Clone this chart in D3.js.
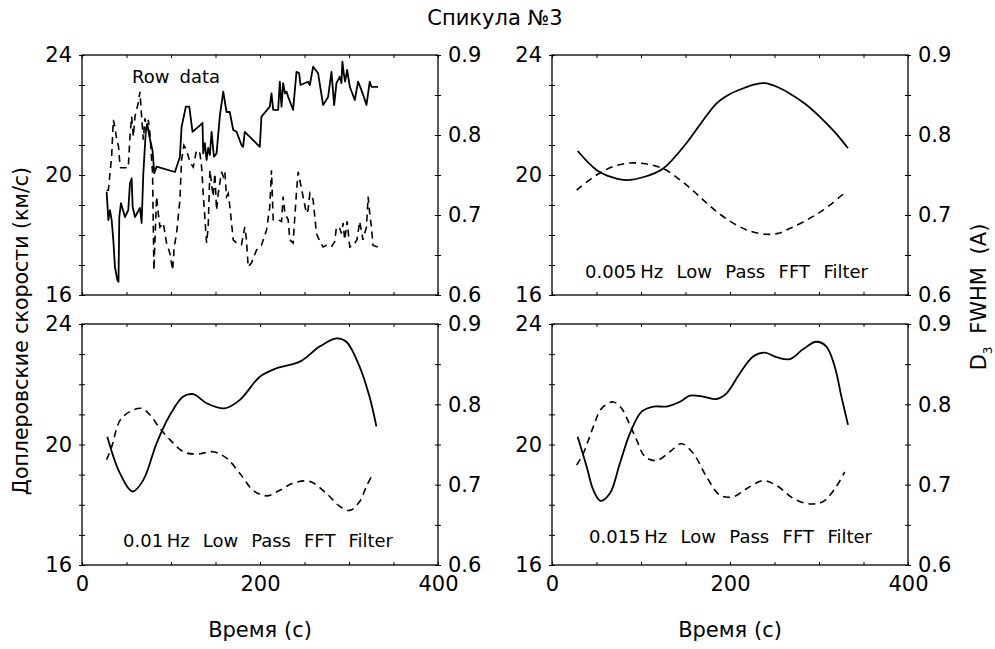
<!DOCTYPE html>
<html>
<head>
<meta charset="utf-8">
<script src="https://cdn.jsdelivr.net/npm/d3@7"></script>
<style>
  body { margin: 0; background: #fff; }
  svg { display: block; }
  text { font-family: "DejaVu Sans", "Noto Sans", sans-serif; fill: #000; }
</style>
</head>
<body>
<svg id="chart" width="995" height="649"></svg>
<script>
// ---- Data: time (s), Doppler velocity (km/s, solid), D3 FWHM (A, dashed) ----
const rawTime = [27.7,29.6,31.4,33.3,35.2,37,39.7,41,41.9,43.8,48.3,52,53.9,55.8,56.9,59.5,65.1,67,68.9,71.8,73.3,75.6,79.3,81.2,83.8,104.4,110,111.9,116.7,120.5,124.2,131.7,135.4,136.2,138,140,141.8,143.7,145.6,148.2,151.2,155,158.7,162.4,166,169.9,173.6,179.2,181,182.9,199.8,201.6,211,212.9,214.8,220.4,222.3,224.2,226,228,229.8,231.7,237.2,241,244,245.5,254,256,259.7,265.3,270.9,276.5,280.3,283.3,285.9,289.6,291.5,292.6,294.1,295.6,297.9,300.9,306.5,310.2,314,316.6,319.6,323.3,325.2,332.6];
const rawVelocity = [19.44,18.5,18.83,18.5,17.83,16.94,16.5,16.44,18.6,19.06,18.6,18.83,19.72,19.89,18.94,18.6,18.9,18.4,20.06,21.5,21.7,21.3,20.8,20.06,20.28,20.1,20.6,21.6,22.28,22.28,21.44,21.63,21.74,20.72,21.06,20.5,20.9,20.67,21.44,20.61,20.72,22.0,22.78,22.1,22.1,21.5,21.44,21.0,20.94,21.44,20.94,21.94,22.28,22.72,22.17,22.17,23.11,22.28,23.06,22.72,22.78,22.6,22.17,23.44,23.39,23.0,23.11,23.0,23.61,23.39,22.33,22.6,23.44,22.33,23.06,23.28,23.06,23.78,23.39,23.11,23.5,22.94,22.5,23.11,22.83,22.61,22.33,23.11,22.94,22.94];

const rawTimeW = [27.7,29.6,33.3,35.2,37,39,41,42.2,43.4,52,53.9,55.8,57.7,59.5,63.2,65.1,67,68.9,70.7,72.6,74.5,76.3,79.3,80.8,82,83.8,85.7,87.6,91.3,95,98.8,101.8,103.6,106.3,110,111.9,114.5,117.5,121.6,125,128.7,132.5,134.4,136.2,140,141.8,143.7,145.6,147.4,149.3,151.2,153.1,156.8,158.7,160.5,162.4,164.3,166.2,169.9,173.6,179.2,183,184.8,186.7,190.4,196,201.6,207.3,211,212.9,214.8,220.4,224.2,226,228,229.8,231.7,233.5,237.2,241,242.9,244.7,248.4,252.2,254,256,259.7,263.4,267.2,270.9,274.7,280.3,284,285.9,289.6,291.5,293.4,295.2,297.9,300.9,304.6,309,312,315.7,319.6,321.5,323.3,325.2,327,332.6];
const rawWidth = [0.731,0.731,0.773,0.819,0.81,0.794,0.786,0.769,0.759,0.759,0.798,0.823,0.798,0.823,0.84,0.854,0.823,0.794,0.821,0.806,0.819,0.802,0.752,0.631,0.669,0.723,0.702,0.685,0.69,0.665,0.652,0.631,0.66,0.677,0.719,0.769,0.787,0.781,0.765,0.76,0.781,0.777,0.76,0.727,0.665,0.685,0.756,0.739,0.723,0.752,0.706,0.727,0.754,0.748,0.754,0.723,0.727,0.71,0.669,0.665,0.663,0.685,0.669,0.635,0.64,0.656,0.662,0.681,0.71,0.756,0.694,0.694,0.692,0.723,0.702,0.698,0.694,0.669,0.665,0.729,0.754,0.744,0.723,0.702,0.706,0.727,0.719,0.677,0.667,0.66,0.662,0.66,0.667,0.685,0.683,0.677,0.69,0.669,0.692,0.66,0.662,0.669,0.692,0.669,0.685,0.723,0.702,0.685,0.662,0.66];

// 0.005 Hz low pass
const f005Time = [28.8,50,68,83.8,105,125,151,168,185,200,214.8,228,239,252,267,285,301,318,332.6];
const f005Velocity = [20.8,20.17,19.92,19.83,19.95,20.22,21.06,21.75,22.39,22.7,22.89,23.02,23.06,22.95,22.72,22.36,21.94,21.42,20.89];
const f005Time2 = [27.7,50,70,87.6,105,125,143.7,160,173.6,190,207.3,222,239,254,267,285,304.6,327];
const f005Width = [0.731,0.75,0.761,0.765,0.764,0.758,0.744,0.729,0.715,0.7,0.6875,0.68,0.676,0.677,0.683,0.693,0.706,0.726];

// 0.01 Hz low pass
const f01Time = [28.4,42.7,56.9,68.9,83.8,98.8,113.8,125,140,160.5,177.4,199.8,218.5,244.7,267,286,297,312,323,330.8];
const f01Velocity = [20.26,19.04,18.44,18.82,20.04,20.98,21.59,21.67,21.37,21.2,21.48,22.25,22.53,22.75,23.25,23.52,23.41,22.58,21.59,20.6];
const f01Time2 = [27.7,33.3,42.7,53.9,67,76.3,87.6,98.8,113.8,128.7,147.4,162.4,177.4,192.3,207.3,222.3,237.2,256,274.7,289.6,300.9,312,319.6,327];
const f01Width = [0.731,0.747,0.78,0.791,0.795,0.787,0.77,0.756,0.741,0.738,0.741,0.733,0.714,0.693,0.686,0.693,0.702,0.704,0.689,0.673,0.668,0.679,0.698,0.714];

// 0.015 Hz low pass
const f015Time = [28.8,38.9,46.4,54.6,65.1,76.3,87.6,100.7,113.8,128.7,143.7,154.9,169.9,184.9,196.1,211,226,239,252.2,267,282,297,308.3,317.7,325.2,332.6];
const f015Velocity = [20.26,19.27,18.49,18.13,18.38,19.38,20.37,21.09,21.26,21.26,21.42,21.62,21.59,21.51,21.7,22.36,22.92,23.05,22.9,22.83,23.16,23.41,23.25,22.58,21.59,20.65];
const f015Time2 = [27.7,35.2,46.4,55.8,68.9,78.1,87.6,95,104.4,117.5,132.5,145.6,158.7,173.6,188.6,203.6,218.5,237.2,252.2,270.9,289.6,304.6,319.6,328.9];
const f015Width = [0.7245,0.739,0.772,0.795,0.803,0.795,0.774,0.756,0.735,0.73,0.741,0.751,0.739,0.71,0.687,0.685,0.695,0.705,0.699,0.683,0.676,0.679,0.698,0.716];

// Axis ticks
const xTicks = [0, 50, 100, 150, 200, 250, 300, 350, 400];
const xLabels = [0, 200, 400];
const vTicks = [16, 17, 18, 19, 20, 21, 22, 23, 24];
const vLabels = [16, 20, 24];
const wTicks = [0.6, 0.65, 0.7, 0.75, 0.8, 0.85, 0.9];
const wLabels = [0.6, 0.7, 0.8, 0.9];

const panelTitles = ["Row data", "0.005\u2009Hz Low Pass FFT Filter", "0.01\u2009Hz Low Pass FFT Filter", "0.015\u2009Hz Low Pass FFT Filter"];

const svg = d3.select("#chart");

const panels = [
  { x0: 82, x1: 438, y0: 55, y1: 295, vt: rawTime, v: rawVelocity, wt: rawTimeW, w: rawWidth, smooth: false, xlab: false,
    title: panelTitles[0], tx: 132, ty: 83, tlen: 88 },
  { x0: 552, x1: 908, y0: 55, y1: 295, vt: f005Time, v: f005Velocity, wt: f005Time2, w: f005Width, smooth: true, xlab: false,
    title: panelTitles[1], tx: 585, ty: 278, tlen: 283 },
  { x0: 82, x1: 438, y0: 324, y1: 565, vt: f01Time, v: f01Velocity, wt: f01Time2, w: f01Width, smooth: true, xlab: true,
    title: panelTitles[2], tx: 123, ty: 547, tlen: 270 },
  { x0: 552, x1: 908, y0: 324, y1: 565, vt: f015Time, v: f015Velocity, wt: f015Time2, w: f015Width, smooth: true, xlab: true,
    title: panelTitles[3], tx: 589, ty: 543, tlen: 283 }
];

const tickFont = "21px";

panels.forEach(p => {
  const x = d3.scaleLinear().domain([0, 400]).range([p.x0, p.x1]);
  const yV = d3.scaleLinear().domain([16, 24]).range([p.y1, p.y0]);
  const yW = d3.scaleLinear().domain([0.6, 0.9]).range([p.y1, p.y0]);
  const g = svg.append("g");

  // frame
  g.append("rect").attr("x", p.x0).attr("y", p.y0)
    .attr("width", p.x1 - p.x0).attr("height", p.y1 - p.y0)
    .attr("fill", "none").attr("stroke", "#000").attr("stroke-width", 1.3);

  // bottom axis (inward ticks)
  const bAx = g.append("g").attr("transform", `translate(0,${p.y1})`)
    .call(d3.axisBottom(x).tickValues(xTicks).tickSize(-3)
      .tickFormat(d => (p.xlab && xLabels.includes(d)) ? d : ""));
  bAx.select(".domain").remove();
  bAx.selectAll("text").attr("y", 11).style("font-size", tickFont).style("font-family", "'DejaVu Sans', sans-serif");

  // top axis (inward ticks)
  const tAx = g.append("g").attr("transform", `translate(0,${p.y0})`)
    .call(d3.axisTop(x).tickValues(xTicks).tickSize(-3).tickFormat(""));
  tAx.select(".domain").remove();

  // left axis: crossing ticks
  const lAx = g.append("g").attr("transform", `translate(${p.x0},0)`)
    .call(d3.axisLeft(yV).tickValues(vTicks).tickSize(3).tickPadding(7)
      .tickFormat(d => vLabels.includes(d) ? d : ""));
  lAx.select(".domain").remove();
  lAx.selectAll(".tick line").attr("x1", 3);
  lAx.selectAll("text").style("font-size", tickFont).style("font-family", "'DejaVu Sans', sans-serif");

  // right axis: crossing ticks
  const rAx = g.append("g").attr("transform", `translate(${p.x1},0)`)
    .call(d3.axisRight(yW).tickValues(wTicks).tickSize(3).tickPadding(7)
      .tickFormat(d => wLabels.some(v => Math.abs(v - d) < 1e-9) ? d3.format(".1f")(d) : ""));
  rAx.select(".domain").remove();
  rAx.selectAll(".tick line").attr("x1", -3);
  rAx.selectAll("text").style("font-size", tickFont).style("font-family", "'DejaVu Sans', sans-serif");

  const curve = p.smooth ? d3.curveCatmullRom.alpha(0.5) : d3.curveLinear;

  const lineV = d3.line().x(d => x(d[0])).y(d => yV(d[1])).curve(curve);
  const lineW = d3.line().x(d => x(d[0])).y(d => yW(d[1])).curve(curve);

  g.append("path").datum(p.vt.map((t, i) => [t, p.v[i]]))
    .attr("d", lineV).attr("fill", "none").attr("stroke", "#000")
    .attr("stroke-width", 1.8).attr("stroke-linejoin", "round");

  g.append("path").datum(p.wt.map((t, i) => [t, p.w[i]]))
    .attr("d", lineW).attr("fill", "none").attr("stroke", "#000")
    .attr("stroke-width", 1.6).attr("stroke-dasharray", "7,5");

  // panel caption; spread words so the caption spans its set width
  const cap = g.append("text").attr("x", p.tx).attr("y", p.ty)
    .style("font-size", "18px").text(p.title);
  const natural = cap.node().getComputedTextLength();
  const gaps = (p.title.match(/ /g) || []).length;
  if (gaps > 0) cap.attr("word-spacing", Math.max(0, (p.tlen - natural) / gaps));
});

// titles and axis labels
svg.append("text").attr("x", 495).attr("y", 25).attr("text-anchor", "middle")
  .style("font-size", "21px").text("Спикула №3");

svg.append("text").attr("transform", "translate(28,331) rotate(-90)")
  .attr("text-anchor", "middle").style("font-size", "20.5px")
  .text("Доплеровские скорости (км/с)");

const rl = svg.append("text").attr("transform", "translate(986,297) rotate(-90)")
  .attr("text-anchor", "middle").style("font-size", "21px").attr("word-spacing", 6);
rl.append("tspan").text("D");
rl.append("tspan").attr("dy", 6).style("font-size", "12px").text("3");
rl.append("tspan").attr("dy", -6).text(" FWHM (A)");

[260, 730].forEach(cx => {
  svg.append("text").attr("x", cx).attr("y", 637).attr("text-anchor", "middle")
    .style("font-size", "21px").text("Время (с)");
});
</script>
</body>
</html>
